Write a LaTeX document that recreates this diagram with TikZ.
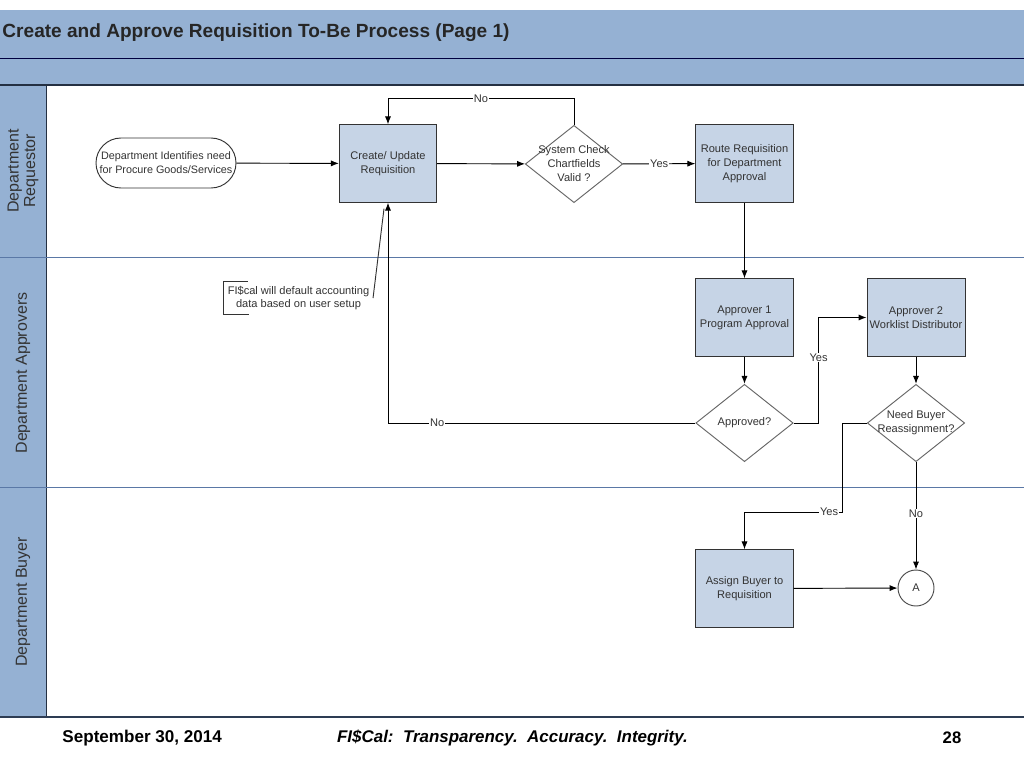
\documentclass[tikz,border=0pt]{standalone}
\usepackage{fontspec}
\setmainfont{Liberation Sans}
\usepackage{tikz}
\usetikzlibrary{shapes,arrows.meta}
\definecolor{headblue}{HTML}{95B1D3}
\definecolor{boxblue}{HTML}{C6D4E6}
\definecolor{laneline}{HTML}{5A78A6}
\definecolor{textgray}{HTML}{333333}

\begin{document}
\begin{tikzpicture}[x=0.75pt,y=-0.75pt,>={Latex[length=6pt,width=4.6pt]},line width=0.7pt]
			\tikzstyle{task}=[draw=black!80,fill=boxblue,rectangle,text centered,align=center,inner sep=2pt,minimum width=73pt,minimum height=58pt,text=textgray,font=\fontsize{8.3pt}{10.5pt}\selectfont]
			\tikzstyle{decision}=[draw=black!60,fill=white,diamond,inner sep=0pt,minimum width=73pt,minimum height=58pt,label={[align=center,text=textgray,font=\fontsize{8.3pt}{10.5pt}\selectfont]center:#1}]
			\tikzstyle{lbl}=[fill=white,inner sep=0.6pt,text=textgray,font=\fontsize{8.3pt}{10pt}\selectfont]
			\tikzstyle{lane}=[rotate=90,align=center,text=textgray,font=\fontsize{12pt}{12.5pt}\selectfont]
			
			\useasboundingbox (0,0) rectangle (1024,768);
			\fill[white] (0,0) rectangle (1024,768);
			
			% header and lanes
			\fill[headblue] (0,10) rectangle (1024,85);
			\fill[headblue] (0,85) rectangle (46,717);
			\draw[black!75!blue,line width=1pt] (0,58.5) -- (1024,58.5);
			\draw[black!60!laneline,line width=1.3pt] (0,85) -- (1024,85);
			\draw[black!60!laneline] (46,85) -- (46,717);
			\draw[laneline] (0,257) -- (1024,257);
			\draw[laneline] (0,487) -- (1024,487);
			\draw[black!50!laneline,line width=1pt] (0,717) -- (1024,717);
			
			\node[anchor=west,inner sep=0pt,font=\bfseries\fontsize{14.3pt}{16pt}\selectfont,text=black!85] (title) at (2,33) {Create and Approve Requisition To-Be Process (Page 1)};
			
			\node[lane] (lreq) at (23,171) {Department\\Requestor};
			\node[lane] (lappr) at (23,373) {Department Approvers};
			\node[lane] (lbuy) at (23,602) {Department Buyer};
			
			% steps
			\node[draw=black!80,rounded rectangle,align=center,minimum width=111pt,minimum height=37.5pt,inner sep=3pt,text=textgray,font=\fontsize{8.1pt}{10.5pt}\selectfont] (need) at (166,163) {Department Identifies need\\for Procure Goods/Services};
			\node[task] (create) at (388,163.5) {Create/ Update\\Requisition};
			\node[decision={System Check\\Chartfields\\Valid ?}] (check) at (574,164) {};
			\node[task] (route) at (744.5,163.5) {Route Requisition\\for Department\\Approval};
			\node[task] (appr1) at (744.5,317.5) {Approver 1\\Program Approval};
			\node[decision={Approved?}] (approved) at (744.5,423) {};
			\node[task] (appr2) at (916,317.5) {Approver 2\\Worklist Distributor};
			\node[decision={Need Buyer\\Reassignment?}] (reassign) at (916,423) {};
			\node[task] (assign) at (744.5,588.5) {Assign Buyer to\\Requisition};
			\node[draw=black!70,circle,minimum size=27pt,inner sep=0pt,text=textgray,font=\fontsize{8.3pt}{10pt}\selectfont] (a) at (916,588) {A};
			
			\node[align=center,inner xsep=2.5pt,minimum height=24pt,text=textgray,font=\fontsize{8.3pt}{10pt}\selectfont] (fiscal) at (298.5,298) {FI\$cal will default accounting\\data based on user setup};
			\draw[black!80] ([xshift=18pt]fiscal.north west) -| (fiscal.south west) -- ++(25,0);
			\draw[black!80] (fiscal.east) -- ([shift={(-4,6)}]create.south);
			
			% connectors
			\draw[->] (need) -- (create);
			\draw[->] (create) -- (check);
			\draw[->] (check.north) -- ++(0,-26) -| (create.north) node[lbl,pos=0.25] {No};
			\draw[->] (check) -- (route) node[lbl,midway] {Yes};
			\draw[->] (route) -- (appr1);
			\draw[->] (appr1) -- (approved);
			\draw[->] (approved.east) -- ++(25,0) |- (appr2.west) node[lbl,pos=0.31] {Yes};
			\draw[->] (approved.west) -| (create.south) node[lbl,pos=0.42] {No};
			\draw[->] (appr2) -- (reassign);
			\draw[->] (reassign.west) -- ++(-24,0) -- ++(0,89) -| (assign.north) node[lbl,pos=0.07] {Yes};
			\draw[->] (reassign.south) -- (a.north) node[lbl,pos=0.48] {No};
			\draw[->] (assign) -- (a);
			
			% footer
			\node[anchor=west,inner sep=0pt,font=\bfseries\fontsize{12.8pt}{14pt}\selectfont] (date) at (62,738) {September 30, 2014};
			\node[font=\bfseries\itshape\fontsize{12.7pt}{14pt}\selectfont] (motto) at (512.5,738) {FI\$Cal:\ \ Transparency.\ \ Accuracy.\ \ Integrity.};
			\node[font=\bfseries\fontsize{12.5pt}{14pt}\selectfont] (page) at (952,738) {28};
			
		\end{tikzpicture}
\end{document}
